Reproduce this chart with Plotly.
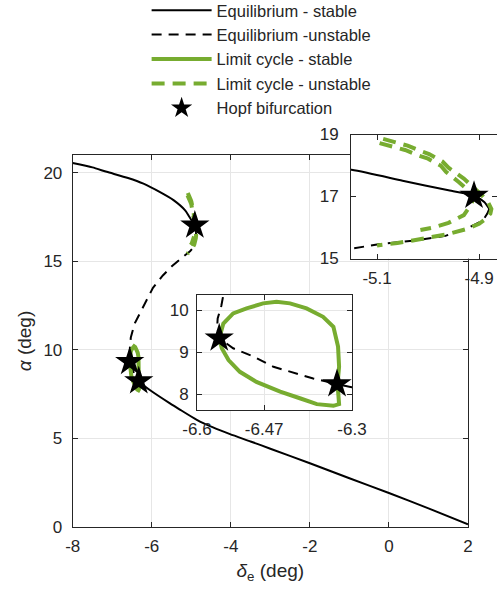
import plotly.graph_objects as go

# ---------------- data ----------------
eq_stable_up_x = [-8.0, -7.5, -7.14, -6.6, -6.21, -5.79, -5.45, -5.15, -5.05, -4.96, -4.91, -4.89, -4.88]
eq_stable_up_y = [20.55, 20.3, 20.05, 19.7, 19.38, 18.9, 18.45, 17.86, 17.51, 17.2, 17.03, 16.82, 16.6]

eq_unstable_x = [-4.88, -4.884, -4.893, -4.92, -4.966, -5.031, -5.097, -5.149, -5.24, -5.5, -5.72,
                 -5.97, -6.23, -6.43, -6.53, -6.549, -6.553, -6.56, -6.561, -6.557, -6.53, -6.49,
                 -6.452, -6.41, -6.375, -6.329]
eq_unstable_y = [16.6, 16.45, 16.22, 16.0, 15.73, 15.57, 15.46, 15.35, 15.2, 14.7, 14.2,
                 13.5, 12.4, 11.5, 10.7, 10.36, 10.1, 9.8, 9.6, 9.33, 9.09, 8.89,
                 8.65, 8.5, 8.37, 8.24]

eq_stable_low_x = [-6.329, -6.3, -6.04, -5.54, -5.29, -4.86, -4.45, -4.02, -3.5, -3.0, -2.0, -1.0, 0.0, 1.0, 2.0]
eq_stable_low_y = [8.24, 8.16, 7.72, 6.98, 6.63, 6.05, 5.62, 5.24, 4.83, 4.42, 3.6, 2.75, 1.92, 1.05, 0.15]

lc_stable_x = [-6.557, -6.549, -6.530, -6.504, -6.472, -6.446, -6.42, -6.388, -6.356, -6.336, -6.327,
               -6.325, -6.328, -6.327, -6.325, -6.336, -6.368, -6.401, -6.439, -6.485, -6.517,
               -6.539, -6.552, -6.557]
lc_stable_y = [9.325, 9.68, 9.92, 10.04, 10.16, 10.20, 10.16, 10.04, 9.84, 9.60, 9.13,
               8.65, 8.24, 8.02, 7.76, 7.72, 7.76, 7.90, 8.06, 8.29, 8.53,
               8.81, 9.09, 9.325]

lc_unstable_outer_x = [-5.088, -5.065, -5.04, -5.015, -4.998, -4.972, -4.96, -4.93, -4.912, -4.895,
                       -4.882, -4.876, -4.878, -4.885, -4.9, -4.925, -4.96, -5.0, -5.03, -5.06, -5.1]
lc_unstable_outer_y = [18.86, 18.77, 18.64, 18.47, 18.37, 18.13, 17.93, 17.58, 17.3, 17.05,
                       16.8, 16.6, 16.45, 16.3, 16.12, 15.95, 15.79, 15.66, 15.58, 15.5, 15.42]
lc_unstable_inner_x = [-5.095, -5.07, -5.045, -5.02, -5.0, -4.975, -4.965, -4.94, -4.92, -4.91,
                       -4.915, -4.93, -4.96, -4.99, -5.015]
lc_unstable_inner_y = [18.72, 18.62, 18.5, 18.33, 18.22, 17.99, 17.8, 17.47, 17.2, 17.03,
                       16.75, 16.4, 16.15, 16.0, 15.92]

hopf_x = [-4.91, -6.557, -6.329]
hopf_y = [17.03, 9.33, 8.24]

main_xticks = [-8, -6, -4, -2, 0, 2]
main_xlabels = ["-8", "-6", "-4", "-2", "0", "2"]
main_yticks = [0, 5, 10, 15, 20]
in1_xticks = [-6.6, -6.47, -6.3]
in1_xlabels = ["-6.6", "-6.47", "-6.3"]
in1_yticks = [8, 9, 10]
in2_xticks = [-5.1, -4.9]
in2_xlabels = ["-5.1", "-4.9"]
in2_yticks = [15, 17, 19]

# ---------------- styling ----------------
GREEN = "#77AC30"
INK = "#262626"
FONT = "Liberation Sans, Arial, sans-serif"
W, H = 497, 590

fig = go.Figure()

subplots = [("x", "y", True), ("x2", "y2", False), ("x3", "y3", False)]
for xa, ya, leg in subplots:
    fig.add_trace(go.Scatter(x=eq_stable_up_x, y=eq_stable_up_y, mode="lines", xaxis=xa, yaxis=ya,
                             line=dict(color="black", width=2, shape="spline", smoothing=0.6),
                             name="Equilibrium - stable", legendgroup="es", showlegend=leg))
    fig.add_trace(go.Scatter(x=eq_stable_low_x, y=eq_stable_low_y, mode="lines", xaxis=xa, yaxis=ya,
                             line=dict(color="black", width=2, shape="spline", smoothing=0.6),
                             name="Equilibrium - stable", legendgroup="es", showlegend=False))
    fig.add_trace(go.Scatter(x=eq_unstable_x, y=eq_unstable_y, mode="lines", xaxis=xa, yaxis=ya,
                             line=dict(color="black", width=2, dash="10px,7px"),
                             name="Equilibrium -unstable", legendgroup="eu", showlegend=leg))
    fig.add_trace(go.Scatter(x=lc_stable_x, y=lc_stable_y, mode="lines", xaxis=xa, yaxis=ya,
                             line=dict(color=GREEN, width=4), name="Limit cycle - stable",
                             legendgroup="ls", showlegend=leg))
    fig.add_trace(go.Scatter(x=lc_unstable_outer_x, y=lc_unstable_outer_y, mode="lines", xaxis=xa, yaxis=ya,
                             line=dict(color=GREEN, width=4, dash="13px,8px"),
                             name="Limit cycle - unstable", legendgroup="lu", showlegend=leg))
    fig.add_trace(go.Scatter(x=lc_unstable_inner_x, y=lc_unstable_inner_y, mode="lines", xaxis=xa, yaxis=ya,
                             line=dict(color=GREEN, width=4, dash="13px,8px"),
                             name="Limit cycle - unstable", legendgroup="lu", showlegend=False))
    fig.add_trace(go.Scatter(x=hopf_x, y=hopf_y, mode="markers", xaxis=xa, yaxis=ya,
                             marker=dict(symbol="star", size=22, color="black"),
                             name="Hopf bifurcation", legendgroup="h", showlegend=leg))

def px_dom_x(a, b):
    return [a / W, b / W]

def px_dom_y(top, bottom):
    return [(H - bottom) / H, (H - top) / H]

axis_common = dict(showline=True, linecolor=INK, linewidth=1, mirror="ticks", ticks="inside",
                   tickcolor=INK, ticklen=5, tickwidth=1, zeroline=False, automargin=False,
                   tickfont=dict(family=FONT, size=17, color=INK))

fig.update_layout(
    width=W, height=H,
    margin=dict(l=0, r=0, t=0, b=0, autoexpand=False),
    paper_bgcolor="white", plot_bgcolor="white",
    font=dict(family=FONT, size=16, color=INK),
    xaxis=dict(domain=px_dom_x(72.7, 468), range=[-8, 2], tickvals=main_xticks, ticktext=main_xlabels,
               showgrid=True, gridcolor="#e6e6e6", ticklabelstandoff=4,
               title=dict(text="<i>δ</i><sub>e</sub> (deg)", font=dict(family=FONT, size=19, color=INK),
                          standoff=8),
               **axis_common),
    yaxis=dict(domain=px_dom_y(155, 527), range=[0, 21], tickvals=main_yticks,
               showgrid=True, gridcolor="#e6e6e6", ticklabelstandoff=6,
               title=dict(text="<i>α</i> (deg)", font=dict(family=FONT, size=19, color=INK),
                          standoff=6),
               **axis_common),
    xaxis2=dict(domain=px_dom_x(197, 352), range=[-6.6, -6.3], tickvals=in1_xticks,
                ticktext=in1_xlabels, anchor="y2",
                showgrid=True, gridcolor="#e6e6e6", ticklabelstandoff=4, **axis_common),
    yaxis2=dict(domain=px_dom_y(295, 410), range=[7.62, 10.36], tickvals=in1_yticks, anchor="x2",
                showgrid=True, gridcolor="#e6e6e6", ticklabelstandoff=4, **axis_common),
    xaxis3=dict(domain=px_dom_x(351, 497), range=[-5.151, -4.865], tickvals=in2_xticks,
                ticktext=in2_xlabels, anchor="y3",
                showgrid=False, ticklabelstandoff=4, **axis_common),
    yaxis3=dict(domain=px_dom_y(134.5, 258.5), range=[15, 19], tickvals=in2_yticks, anchor="x3",
                showgrid=False, ticklabelstandoff=8, **axis_common),
    legend=dict(x=0.295, y=1.012, xanchor="left", yanchor="top", bgcolor="rgba(255,255,255,0)",
                font=dict(family=FONT, size=16.5, color=INK), itemwidth=60, tracegroupgap=0),
    shapes=[
        dict(type="rect", xref="x2", yref="y2", x0=-6.6, x1=-6.3, y0=7.62, y1=10.36,
             fillcolor="white", line=dict(width=0), layer="below"),
        dict(type="rect", xref="x3", yref="y3", x0=-5.151, x1=-4.865, y0=15, y1=19,
             fillcolor="white", line=dict(width=0), layer="below"),
    ],
)

fig.write_html("out.html")
